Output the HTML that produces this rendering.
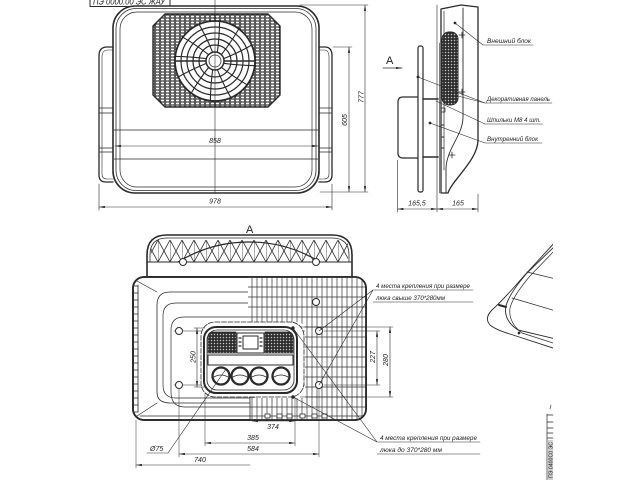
<!DOCTYPE html>
<html><head><meta charset="utf-8">
<style>
html,body{margin:0;padding:0;background:#fff;}
svg{display:block;}
text{font-family:"Liberation Sans","DejaVu Sans",sans-serif;font-style:italic;fill:#222;stroke:none;}
</style></head><body>
<svg width="640" height="480" viewBox="0 0 640 480" xmlns="http://www.w3.org/2000/svg">
<defs>
 <pattern id="mesh" width="5" height="3" patternUnits="userSpaceOnUse">
   <rect width="5" height="3" fill="#fff"/>
   <path d="M0,1.5 L1.25,0 H3.75 L5,1.5 L3.75,3 H1.25 Z" fill="none" stroke="#222" stroke-width="0.9"/>
 </pattern>
 <pattern id="dots" width="3" height="3" patternUnits="userSpaceOnUse">
   <rect width="3" height="3" fill="#2c2c2c"/>
   <circle cx="1.5" cy="1.5" r="0.75" fill="#c8c8c8"/>
 </pattern>
 <pattern id="truss" x="158" y="240" width="12" height="22" patternUnits="userSpaceOnUse">
   <path d="M0,0V22M0,0L12,22M12,0L0,22" stroke="#333" stroke-width="0.8" fill="none"/>
 </pattern>
 <marker id="ar" viewBox="0 0 8 3" refX="8" refY="1.5" markerWidth="6" markerHeight="2.2" orient="auto-start-reverse" markerUnits="userSpaceOnUse"><path d="M0,0L8,1.5L0,3Z" fill="#222"/></marker>
 <clipPath id="gclip"><path d="M248,277 H355 Q366,277 366,288 V409 Q366,420 355,420 H250 V398 H305 V330 Q305,322 295,322 H248 Z"/></clipPath>
 <clipPath id="rc"><rect x="480" y="230" width="73" height="130"/></clipPath>
</defs>

<g stroke="#2a2a2a" fill="none" stroke-linecap="round" stroke-linejoin="round">

<!-- ============ FRONT VIEW ============ -->
<path d="M90,0V6.5H170V0" stroke-width="1"/>
<text x="93" y="4.5" font-size="8" textLength="72" lengthAdjust="spacingAndGlyphs">ПЭ 0000.00 ЭС ЖАУ</text>

<!-- wings -->
<path d="M113,47H107Q99,47 99,56V175Q99,182 106,182H113" stroke-width="1.3"/>
<path d="M113,50H108Q102,50 102,57V174Q102,179 107,179H113" stroke-width="0.6"/>
<path d="M319,47H325Q332,47 332,56V175Q332,182 325,182H319" stroke-width="1.3"/>
<path d="M319,50H324Q329,50 329,57V174Q329,179 324,179H319" stroke-width="0.6"/>
<path d="M99,108H113M99,113H113M319,108H332M319,113H332M99,148H113M99,152H113M319,148H332M319,152H332" stroke-width="0.7"/>

<!-- body -->
<rect x="113" y="6" width="206" height="187" rx="22" fill="#fff" stroke-width="1.6"/>
<rect x="116" y="8.5" width="200" height="182" rx="20" stroke-width="0.8"/>
<rect x="120" y="12" width="192" height="175" rx="17" stroke-width="0.7"/>
<path d="M114,130H318M114,159H318" stroke-width="0.7"/>

<!-- grille -->
<polygon points="165,14 268,14 280,26 280,95 268,107 165,107 153,95 153,26" fill="url(#mesh)" stroke-width="1.4"/>

<!-- fan -->
<circle cx="215" cy="61" r="40" fill="#fff" stroke-width="1.7"/>
<g stroke-width="1.2">
 <circle cx="215" cy="61" r="34"/>
 <circle cx="215" cy="61" r="28"/>
 <circle cx="215" cy="61" r="22"/>
 <circle cx="215" cy="61" r="16"/>
</g>
<g stroke-width="1.1">
 <path d="M224,61 Q240,59 255,55" transform="rotate(15 215 61)"/>
 <path d="M224,61 Q240,59 255,55" transform="rotate(45 215 61)"/>
 <path d="M224,61 Q240,59 255,55" transform="rotate(75 215 61)"/>
 <path d="M224,61 Q240,59 255,55" transform="rotate(105 215 61)"/>
 <path d="M224,61 Q240,59 255,55" transform="rotate(135 215 61)"/>
 <path d="M224,61 Q240,59 255,55" transform="rotate(165 215 61)"/>
 <path d="M224,61 Q240,59 255,55" transform="rotate(195 215 61)"/>
 <path d="M224,61 Q240,59 255,55" transform="rotate(225 215 61)"/>
 <path d="M224,61 Q240,59 255,55" transform="rotate(255 215 61)"/>
 <path d="M224,61 Q240,59 255,55" transform="rotate(285 215 61)"/>
 <path d="M224,61 Q240,59 255,55" transform="rotate(315 215 61)"/>
 <path d="M224,61 Q240,59 255,55" transform="rotate(345 215 61)"/>
</g>
<line x1="175" y1="61" x2="255" y2="61" stroke-width="1.6"/>
<circle cx="215" cy="61" r="9" fill="#fff" stroke-width="1.5"/>
<circle cx="215" cy="61" r="6" stroke-width="0.8"/>
<line x1="215" y1="0" x2="215" y2="193" stroke-width="0.6"/>

<!-- front dims -->
<line x1="115" y1="146" x2="318" y2="146" stroke-width="0.6" marker-start="url(#ar)" marker-end="url(#ar)"/>
<text x="215" y="143" font-size="7" text-anchor="middle">858</text>
<path d="M99,184V210M332,184V210" stroke-width="0.6"/>
<line x1="99" y1="207" x2="332" y2="207" stroke-width="0.6" marker-start="url(#ar)" marker-end="url(#ar)"/>
<text x="215" y="203.5" font-size="7" text-anchor="middle">978</text>
<path d="M333,47H352M320,192H368M300,5H368" stroke-width="0.6"/>
<line x1="349" y1="47" x2="349" y2="192" stroke-width="0.6" marker-start="url(#ar)" marker-end="url(#ar)"/>
<text transform="translate(347,120) rotate(-90)" font-size="7" text-anchor="middle">605</text>
<line x1="365" y1="5" x2="365" y2="192" stroke-width="0.6" marker-start="url(#ar)" marker-end="url(#ar)"/>
<text transform="translate(363.5,97) rotate(-90)" font-size="7" text-anchor="middle">777</text>

<!-- ============ SIDE VIEW ============ -->
<text x="386" y="64" font-size="11" style="font-style:normal">A</text>
<line x1="383" y1="68" x2="402" y2="68" stroke-width="0.8" marker-end="url(#ar)"/>

<path d="M418,97H403Q398,97 398,102V153Q398,158 403,158H418" stroke-width="1.2"/>
<path d="M398,140V146" stroke-width="1"/>
<rect x="418" y="46" width="5" height="146" rx="2" fill="#fff" stroke-width="1.2"/>
<path d="M423,99H438M423,157H438" stroke-width="1.6"/>
<path d="M437,5V212M439.5,43V193" stroke-width="0.6"/>

<path d="M441,9 L461,5 L478,7 L478,140 C478,160 452,180 448,193 L441,193 Z" fill="#fff" stroke-width="1.3"/>
<path d="M463,8 L463,117 C463,135 447,148 446,168 L446,193" stroke-width="0.9"/>
<path d="M444,11 L444,170" stroke-width="0.7"/>
<rect x="442" y="32" width="16" height="73" rx="7" fill="url(#dots)" stroke-width="1"/>
<path d="M459,35H465M462,32V38M459,92H465M462,89V95M449,155H455M452,152V158" stroke-width="0.8"/>
<rect x="441" y="108" width="4" height="4" stroke-width="0.7"/>
<path d="M442,125h2M442,137h2M442,148h2" stroke-width="1"/>

<!-- side dims -->
<path d="M397.5,160V212M478,194V212" stroke-width="0.6"/>
<line x1="397.5" y1="209" x2="437" y2="209" stroke-width="0.6" marker-start="url(#ar)" marker-end="url(#ar)"/>
<line x1="437" y1="209" x2="478" y2="209" stroke-width="0.6" marker-start="url(#ar)" marker-end="url(#ar)"/>
<text x="417" y="205.5" font-size="7" text-anchor="middle">165,5</text>
<text x="458" y="205.5" font-size="7" text-anchor="middle">165</text>

<!-- side labels -->
<g stroke-width="0.6">
 <path d="M455,23 L483,45 H533"/>
 <path d="M418,77 L485,103 H552"/>
 <path d="M458,96 L485,103"/>
 <path d="M436,101 L485,124 H543"/>
 <path d="M430,123 L485,143 H542"/>
</g>
<circle cx="455" cy="23" r="0.9" fill="#222"/>
<circle cx="418" cy="77" r="0.9" fill="#222"/>
<circle cx="430" cy="123" r="0.9" fill="#222"/>
<text x="487" y="43" font-size="6.5" textLength="44" lengthAdjust="spacingAndGlyphs">Внешний блок</text>
<text x="487" y="101" font-size="6.5" textLength="63" lengthAdjust="spacingAndGlyphs">Декоративная панель</text>
<text x="487" y="122" font-size="6.5" textLength="54" lengthAdjust="spacingAndGlyphs">Шпильки М8 4 шт.</text>
<text x="487" y="141" font-size="6.5" textLength="51" lengthAdjust="spacingAndGlyphs">Внутренний блок</text>

<!-- ============ BOTTOM VIEW ============ -->
<text x="246" y="233" font-size="11" style="font-style:normal">A</text>
<path d="M248,235L254,235L251,238Z" fill="#222" stroke="none"/>

<!-- top element with trusses -->
<path d="M147,277 L147,255 Q147,235 167,235 L332,235 Q352,235 352,255 L352,277" fill="#fff" stroke-width="1.6"/>
<path d="M150,262 L150,255 Q150,238 167,238 L332,238 Q349,238 349,255 L349,262" stroke-width="0.8"/>
<rect x="151" y="240" width="197" height="22" fill="url(#truss)" stroke="none"/>
<path d="M147,262H352" stroke-width="1.1"/>
<path d="M178,262 A136,136 0 0 1 320,262" stroke-width="1.2"/>
<circle cx="183" cy="262" r="3.5" fill="#fff" stroke-width="1"/>
<circle cx="316" cy="262" r="3.5" fill="#fff" stroke-width="1"/>

<!-- main body -->
<rect x="133" y="277" width="233" height="143" rx="11" fill="#fff" stroke-width="1.8"/>
<path d="M138,285V412M140,416H360M361,288V410" stroke-width="0.8"/>
<path d="M133,286h5M133,293h5M133,300h5M133,307h5M133,314h5M133,321h5M133,328h5M133,335h5M133,342h5M133,349h5M133,356h5M133,363h5M133,370h5M133,377h5M133,384h5M133,391h5M133,398h5M133,405h5M133,412h5" stroke-width="0.8"/>
<path d="M137,281 L157,292 M137,416 L157,403" stroke-width="0.7"/>
<path d="M255,292 L170,292 Q157,292 157,305 L157,392 Q157,403 170,403 L255,403" stroke-width="0.8"/>
<path d="M255,303 L176,303 Q163,303 163,316 L163,385 Q163,398 176,398 L255,398" stroke-width="0.7"/>
<path d="M255,317 L184,317 Q171,317 171,330 L171,392 Q171,407 185,407 L255,407" stroke-width="0.7"/>
<path d="M174,331H324M174,385H324" stroke-width="0.5"/>

<!-- grid -->
<path d="M248,277 H355 Q366,277 366,288 V409 Q366,420 355,420 H250 V398 H305 V330 Q305,322 295,322 H248 Z" fill="#fff" stroke="none"/>
<g clip-path="url(#gclip)" stroke="#333" stroke-width="0.7">
 <path d="M252,277V420M257,277V420M262,277V420M267,277V420M272,277V420M277,277V420M282,277V420M287,277V420M292,277V420M297,277V420M302,277V420M307,277V420M312,277V420M317,277V420M322,277V420M327,277V420M332,277V420M337,277V420M342,277V420M347,277V420M352,277V420M357,277V420M362,277V420"/>
 <path d="M245,287H366M245,297H366M245,307H366M245,317H366M245,327H366M245,337H366M245,347H366M245,357H366M245,367H366M245,377H366M245,387H366M245,397H366M245,407H366M245,416H366"/>
</g>
<rect x="133" y="277" width="233" height="143" rx="11" stroke-width="1.8"/>
<path d="M250,397V420" stroke-width="0.8"/>
<g stroke-width="0.8" fill="#fff">
 <rect x="265" y="414" width="5" height="4"/><rect x="277" y="414" width="5" height="4"/><rect x="287" y="414" width="5" height="4"/>
 <rect x="300" y="414" width="5" height="4"/><rect x="312" y="414" width="5" height="4"/><rect x="322" y="414" width="5" height="4"/>
</g>

<!-- holes -->
<g fill="#fff" stroke-width="1">
 <circle cx="179" cy="331" r="3.5"/><circle cx="179" cy="385" r="3.5"/>
 <circle cx="319" cy="331" r="3.5"/><circle cx="319" cy="385" r="3.5"/>
 <circle cx="316" cy="302" r="3.5"/>
</g>

<!-- control panel -->
<rect x="201" y="322" width="103" height="75" rx="14" fill="#fff" stroke-width="0.8" stroke-dasharray="5 1.5"/>
<rect x="204" y="327" width="93" height="66" rx="12" fill="#fff" stroke-width="2"/>
<rect x="207" y="330" width="87" height="60" rx="10" stroke-width="0.8"/>
<path d="M213,332 H236 V353 H208 V337 Q208,332 213,332 Z" fill="url(#dots)" stroke-width="0.8"/>
<path d="M265,332 H288 Q293,332 293,337 V353 H265 Z" fill="url(#dots)" stroke-width="0.8"/>
<rect x="237" y="333" width="27" height="20" stroke-width="1"/>
<rect x="243" y="336" width="15" height="13" stroke-width="1"/>
<path d="M239,338h2M239,342h2M239,346h2M260,338h2M260,342h2M260,346h2" stroke-width="1.2"/>
<rect x="208" y="355" width="85" height="10" stroke-width="1"/>
<g fill="#fff" stroke-width="2.3">
 <circle cx="221" cy="376" r="8.5"/><circle cx="240" cy="376" r="8.5"/>
 <circle cx="259" cy="376" r="8.5"/><circle cx="281" cy="376" r="8.5"/>
</g>
<path d="M214,377Q221,373 228,377M233,377Q240,373 247,377M252,377Q259,373 266,377M274,377Q281,373 288,377" stroke-width="0.8"/>
<circle cx="293" cy="328" r="1.2" fill="#222"/>
<circle cx="293" cy="397" r="1.2" fill="#222"/>

<!-- bottom dims -->
<path d="M194,328H205M194,387H205" stroke-width="0.5"/>
<line x1="197" y1="328" x2="197" y2="387" stroke-width="0.6" marker-start="url(#ar)" marker-end="url(#ar)"/>
<text transform="translate(195.5,357) rotate(-90)" font-size="7" text-anchor="middle">250</text>
<path d="M324,331H380M324,385H380M300,327H393M300,397H393" stroke-width="0.5"/>
<line x1="377" y1="331" x2="377" y2="385" stroke-width="0.6" marker-start="url(#ar)" marker-end="url(#ar)"/>
<text transform="translate(375,357) rotate(-90)" font-size="7" text-anchor="middle">227</text>
<line x1="390" y1="327" x2="390" y2="397" stroke-width="0.6" marker-start="url(#ar)" marker-end="url(#ar)"/>
<text transform="translate(388,360) rotate(-90)" font-size="7" text-anchor="middle">280</text>

<path d="M205,393V446M295,397V446M179,389V457M319,389V457M136,420V468" stroke-width="0.5"/>
<line x1="252" y1="421" x2="295" y2="421" stroke-width="0.6" marker-start="url(#ar)" marker-end="url(#ar)"/>
<text x="273" y="429" font-size="7" text-anchor="middle">374</text>
<line x1="205" y1="443" x2="295" y2="443" stroke-width="0.6" marker-start="url(#ar)" marker-end="url(#ar)"/>
<text x="253" y="440" font-size="7" text-anchor="middle">385</text>
<line x1="179" y1="454" x2="319" y2="454" stroke-width="0.6" marker-start="url(#ar)" marker-end="url(#ar)"/>
<text x="253" y="451" font-size="7" text-anchor="middle">584</text>
<line x1="250" y1="465" x2="136" y2="465" stroke-width="0.6" marker-end="url(#ar)"/>
<text x="200" y="462" font-size="7" text-anchor="middle">740</text>

<!-- Ø75 -->
<path d="M147,453H168L226,369" stroke-width="0.6"/>
<text x="150" y="451" font-size="7">Ø75</text>

<!-- right labels -->
<g stroke-width="0.6">
 <path d="M319,331 L373,290 H473 M319,385 L373,290 M373,302 H473"/>
 <path d="M293,328 L377,442 H480 M293,397 L377,442 M377,454 H480"/>
</g>
<text x="376" y="288" font-size="6.5" textLength="94" lengthAdjust="spacingAndGlyphs">4 места крепления при размере</text>
<text x="376" y="300" font-size="6.5" textLength="69" lengthAdjust="spacingAndGlyphs">люка свыше 370*280мм</text>
<text x="380" y="440" font-size="6.5" textLength="97" lengthAdjust="spacingAndGlyphs">4 места крепления при размере</text>
<text x="380" y="452" font-size="6.5" textLength="62" lengthAdjust="spacingAndGlyphs">люка до 370*280 мм</text>

<!-- ============ RIGHT PARTIAL VIEW ============ -->
<g clip-path="url(#rc)" stroke-width="0.9">
 <path d="M556,241 L523,277 Q505,298 492,310 Q484,318 490,325 Q496,330 513,335 L556,349"/>
 <path d="M556,245 L527,273 Q509,294 506,306 Q503,320 518,330 L556,339"/>
 <path d="M556,249 L530,276 Q513,296 510,308 Q508,322 522,333 L556,344" stroke-width="0.7"/>
 <path d="M527,272 L556,279 M512,298 L556,311" stroke-width="0.7"/>
 <path d="M499,305 L506,307" stroke-width="2"/>
 <circle cx="519" cy="333" r="0.9" fill="#222"/>
</g>

<!-- title block fragment -->
<path d="M550,409 L551,405" stroke-width="0.6"/>
<path d="M547,414V480M547,415H553M547,422H553M547,428H553M547,433H553M547,438H553" stroke-width="0.7"/>
<rect x="548" y="440" width="5" height="40" fill="#cfcfcf" stroke="none"/>
<text transform="translate(552.5,478) rotate(-90)" font-size="5" textLength="36" lengthAdjust="spacingAndGlyphs" style="font-style:normal">ПЭ 0400С0 ЭС</text>
</g>
</svg>
</body></html>
